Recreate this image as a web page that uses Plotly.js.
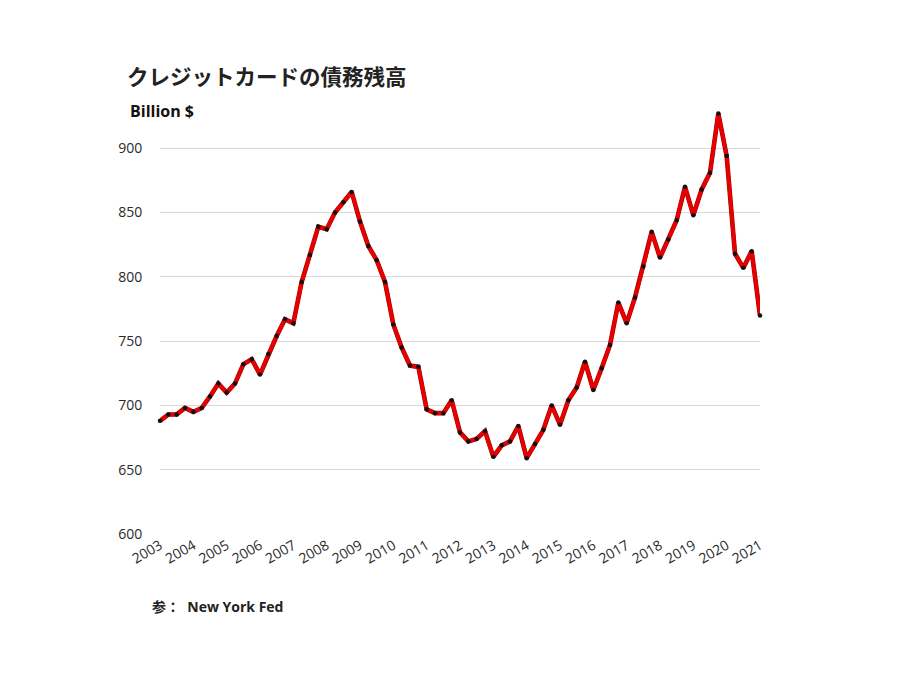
<!DOCTYPE html>
<html>
<head>
<meta charset="utf-8">
<script src="https://cdn.plot.ly/plotly-3.0.1.min.js"></script>
<style>
	html, body { margin: 0; padding: 0; background: #fff; }
	#chart { width: 900px; height: 675px; }
</style>
</head>
<body>
<div id="chart"></div>
<script>
	'use strict';

	// quarterly credit card balances, 2003 Q1 .. 2021 Q1 (billion $)
	const startYear = 2003;
	const balances = [
		688, 693, 693, 698, 695, 698, 707, 717,   // 2003-2004
		710, 717, 732, 736, 724, 740, 754, 767,   // 2005-2006
		764, 796, 817, 839, 837, 850, 858, 866,   // 2007-2008
		843, 824, 813, 796, 763, 745, 731, 730,   // 2009-2010
		697, 694, 694, 704, 679, 672, 674, 680,   // 2011-2012
		660, 669, 672, 684, 659, 670, 681, 700,   // 2013-2014
		685, 704, 714, 734, 712, 729, 747, 780,   // 2015-2016
		764, 784, 808, 835, 815, 829, 844, 870,   // 2017-2018
		848, 868, 881, 927, 894, 818, 807, 820,   // 2019-2020
		770                                      // 2021
	];
	const yearTicks = [2003, 2004, 2005, 2006, 2007, 2008, 2009, 2010, 2011, 2012,
		2013, 2014, 2015, 2016, 2017, 2018, 2019, 2020, 2021];
	const valueTicks = [600, 650, 700, 750, 800, 850, 900];

	// x position of each quarter on the year axis
	const quarters = balances.map( ( v, i ) => startYear + i / 4 );

	// thin dark under-stroke gives the red line its edge
	const edge = {
		x: quarters,
		y: balances,
		type: 'scatter',
		mode: 'lines',
		line: { color: '#a40000', width: 4.6 },
		cliponaxis: false,
		hoverinfo: 'skip'
	};

	const trace = {
		x: quarters,
		y: balances,
		type: 'scatter',
		mode: 'lines+markers',
		line: { color: '#e60000', width: 3.6 },
		marker: { color: '#111', size: 4.5 },
		cliponaxis: false,
		hoverinfo: 'x+y'
	};

	const tickFont = { family: 'Open Sans, Liberation Sans, sans-serif', size: 14, color: '#2a2a2a' };

	const layout = {
		width: 900,
		height: 675,
		margin: { l: 160, r: 140, t: 84, b: 141 },
		paper_bgcolor: '#fff',
		plot_bgcolor: '#fff',
		showlegend: false,
		xaxis: {
			range: [2003, 2021],
			tickvals: yearTicks,
			ticktext: yearTicks.map( String ),
			tickangle: -30,
			tickfont: tickFont,
			showgrid: false,
			zeroline: false,
			showline: false,
			ticks: ''
		},
		yaxis: {
			range: [600, 950],
			tickvals: valueTicks,
			tickfont: tickFont,
			gridcolor: '#d9d9d9',
			gridwidth: 1,
			zeroline: false,
			showline: false,
			ticks: 'outside',
			ticklen: 14,
			tickcolor: 'rgba(0,0,0,0)'
		},
		annotations: [
			{
				text: '<b>クレジットカードの債務残高</b>',
				xref: 'paper', yref: 'paper',
				x: -0.058, y: 1.02,
				xanchor: 'left', yanchor: 'middle',
				showarrow: false,
				font: { family: 'Noto Sans CJK JP, sans-serif', size: 21.5, color: '#222' }
			},
			{
				text: '<b>Billion $</b>',
				xref: 'paper', yref: 'paper',
				x: -0.053, y: 0.94,
				xanchor: 'left', yanchor: 'middle',
				showarrow: false,
				font: { family: 'Open Sans, sans-serif', size: 16, color: '#111' }
			},
			{
				text: '<b>参：  New York Fed</b>',
				xref: 'paper', yref: 'paper',
				x: -0.017, y: -0.16,
				xanchor: 'left', yanchor: 'middle',
				showarrow: false,
				font: { family: 'Open Sans, Noto Sans CJK JP, sans-serif', size: 14, color: '#222' }
			}
		]
	};

	Plotly.newPlot( 'chart', [ edge, trace ], layout, { displayModeBar: false, staticPlot: true } );
</script>
</body>
</html>
